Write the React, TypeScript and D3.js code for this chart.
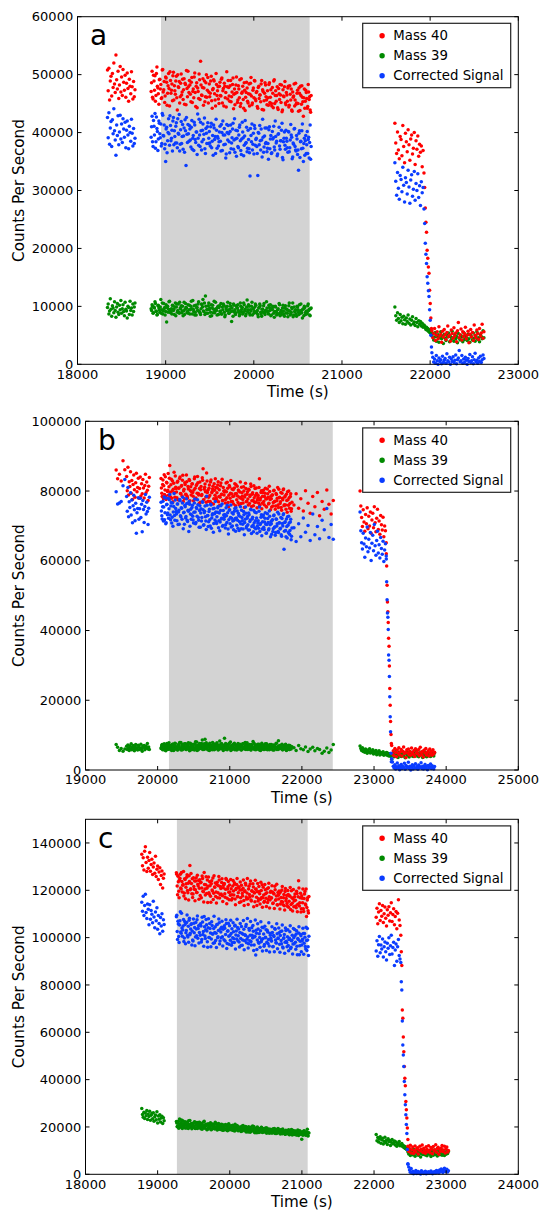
import React from "react";
import * as d3 from "d3";

// ---------- Panel a (values in thousands of counts per second) ----------
const A1_T = [18340,18348,18356,18364,18372,18380,18388,18396,18404,18412,18420,18428,18436,18444,18452,18460,18468,18476,18484,18492,18500,18508,18516,18524,18532,18540,18548,18556,18564,18572,18580,18588,18596,18604,18612,18620,18628,18636,18644,18652];
const A1_M40 = [50.8,47.2,51.1,45.6,48.9,49.7,46.3,50.2,47.8,52.0,48.4,46.9,53.4,49.1,47.5,50.6,45.9,48.2,51.4,47.0,49.6,46.4,50.9,48.7,47.3,49.9,46.1,48.5,50.3,47.6,45.4,49.2,48.0,46.7,50.5,47.9,45.8,48.8,46.2,47.4];
const A1_M39 = [9.8,10.4,8.7,9.2,11.3,9.5,8.3,10.1,9.7,8.9,10.8,9.3,8.1,9.9,10.5,9.0,8.6,10.2,9.4,11.0,8.8,9.6,10.3,9.1,8.4,10.7,9.5,9.2,8.0,10.0,9.8,8.6,10.9,9.3,9.7,8.5,10.4,9.1,9.9,10.6];
const A1_COR = [42.6,39.1,43.4,38.0,40.8,41.9,37.6,42.2,39.8,44.1,40.3,38.7,36.1,41.3,39.5,42.9,37.9,40.1,43.0,38.9,41.5,38.3,42.4,40.6,39.2,41.8,37.4,40.4,42.0,39.6,37.2,41.1,40.0,38.5,42.3,39.9,37.7,40.7,38.1,39.0];

const A2_T = [
18835,18846,18857,18868,18879,18890,18901,18912,18923,18934,
18945,18956,18967,18978,18989,19000,19011,19022,19033,19044,
19055,19066,19077,19088,19099,19110,19121,19132,19143,19154,
19165,19176,19187,19198,19209,19220,19231,19242,19253,19264,
19275,19286,19297,19308,19319,19330,19341,19352,19363,19374,
19385,19396,19407,19418,19429,19440,19451,19462,19473,19484,
19495,19506,19517,19528,19539,19550,19561,19572,19583,19594,
19605,19616,19627,19638,19649,19660,19671,19682,19693,19704,
19715,19726,19737,19748,19759,19770,19781,19792,19803,19814,
19825,19836,19847,19858,19869,19880,19891,19902,19913,19924,
19935,19946,19957,19968,19979,19990,20001,20012,20023,20034,
20045,20056,20067,20078,20089,20100,20111,20122,20133,20144,
20155,20166,20177,20188,20199,20210,20221,20232,20243,20254,
20265,20276,20287,20298,20309,20320,20331,20342,20353,20364,
20375,20386,20397,20408,20419,20430,20441,20452,20463,20474,
20485,20496,20507,20518,20529,20540,20551,20562,20573,20584,
20595,20606,20617,20628,20639,20650];
const A2_M40 = [
47.1,50.6,45.8,48.9,49.8,46.4,51.3,47.7,44.9,49.2,
48.3,46.0,50.9,47.4,45.2,49.6,48.7,46.8,50.2,44.6,
49.0,47.3,45.5,50.4,48.1,46.6,49.7,43.9,47.9,48.8,
46.2,50.1,47.0,45.7,49.3,48.5,44.8,47.6,50.6,46.9,
48.2,45.3,49.5,47.1,46.0,50.3,44.5,48.6,47.7,45.9,
49.1,52.3,46.5,47.8,44.7,48.9,46.2,50.0,47.3,45.1,
48.4,46.8,49.7,44.2,47.6,48.9,45.6,50.2,46.4,47.9,
45.0,48.7,46.3,49.4,47.2,44.6,48.0,46.9,50.5,45.8,
47.8,45.4,49.0,46.2,48.3,44.1,47.5,46.8,49.6,45.2,
48.1,46.0,44.5,49.3,47.0,45.7,48.6,43.8,46.9,47.7,
45.1,48.4,46.6,49.5,44.8,47.3,46.0,48.9,45.5,47.1,
44.2,48.0,46.5,45.3,49.0,47.4,43.9,46.8,48.2,45.6,
47.2,44.7,48.6,46.1,45.0,47.8,44.3,49.1,46.4,45.4,
47.9,44.0,46.7,48.3,45.2,43.6,47.4,46.2,48.8,44.8,
46.5,47.7,44.4,48.1,45.6,43.9,47.0,46.3,44.6,48.5,
45.1,47.3,43.7,46.8,48.0,44.9,46.1,42.8,47.5,45.4,
46.9,44.2,48.3,45.7,43.9,46.4];
const A2_M39 = [
9.6,10.3,8.8,9.9,10.8,9.2,8.5,10.1,9.7,9.0,
11.2,9.4,8.7,10.5,9.8,9.1,7.3,10.0,9.5,10.9,
8.9,9.6,10.2,9.3,8.6,10.6,9.9,9.0,10.4,8.8,
9.7,10.1,9.2,8.4,10.7,9.5,9.8,8.9,10.3,9.4,
8.7,10.0,9.6,11.0,9.1,8.5,10.2,9.7,9.3,10.8,
9.0,8.6,10.4,9.9,9.2,10.6,11.8,8.8,9.5,10.1,
9.4,8.3,10.3,9.7,8.9,10.9,9.2,9.6,8.5,10.0,
9.8,9.1,10.5,8.7,9.4,10.2,8.2,9.9,9.3,10.7,
8.8,9.5,10.0,7.4,9.2,10.4,9.0,8.6,10.1,9.7,
9.3,8.4,10.6,9.1,9.8,8.9,10.3,9.5,8.7,11.1,
9.4,10.0,8.5,9.2,10.7,9.6,8.8,9.9,10.2,9.1,
8.6,9.7,10.4,9.0,8.3,9.5,10.1,8.9,9.3,10.8,
9.2,8.7,9.8,10.3,8.5,9.4,9.9,8.1,10.0,9.1,
8.8,9.6,10.5,8.4,9.3,9.0,10.2,8.6,9.7,8.9,
9.5,8.2,10.1,9.2,8.7,9.8,10.6,8.5,9.1,9.4,
8.3,9.9,9.0,10.3,8.8,9.3,8.0,9.6,10.0,8.6,
9.2,8.9,10.4,9.5,8.4,9.7];
const A2_COR = [
39.2,42.8,37.6,41.1,43.3,38.4,40.7,36.9,42.0,39.8,
41.5,38.1,43.0,39.4,37.2,35.0,40.9,38.6,42.4,37.8,
41.2,39.0,36.8,42.6,40.3,38.2,41.7,37.4,39.9,43.1,
38.0,41.9,39.3,37.1,40.8,42.2,34.3,39.7,41.4,38.5,
40.6,37.5,42.1,39.0,36.9,41.3,38.3,40.1,43.2,37.8,
39.6,41.8,37.0,40.4,38.8,42.5,36.4,39.9,41.0,38.1,
40.2,37.7,41.6,38.5,36.1,40.8,39.3,42.3,37.3,39.0,
38.4,41.1,36.8,40.0,42.0,37.9,39.6,35.6,41.4,38.7,
39.8,36.5,41.3,38.2,40.6,37.1,42.4,38.9,35.9,40.3,
37.4,40.9,38.6,36.2,41.8,39.1,37.8,42.1,38.3,36.7,
40.4,37.2,32.5,39.5,41.5,38.0,36.3,40.7,38.8,37.6,
32.6,39.9,41.2,37.0,38.7,42.3,36.6,39.4,38.1,40.8,
37.3,35.4,41.0,38.9,36.4,40.2,39.1,37.5,42.0,38.2,
36.0,39.7,40.9,37.1,38.6,41.6,35.3,39.0,37.8,40.4,
38.5,36.6,40.1,37.4,41.4,39.2,35.8,38.0,40.7,37.0,
39.5,36.2,33.5,40.3,38.4,37.2,41.5,35.0,39.0,38.6,
36.4,40.2,38.8,35.6,41.3,37.6];

const A2X_T = [
18840,18851,18862,18873,18884,18895,18906,18917,18928,18939,
18950,18961,18972,18983,18994,19005,19016,19027,19038,19049,
19060,19071,19082,19093,19104,19115,19126,19137,19148,19159,
19170,19181,19192,19203,19214,19225,19236,19247,19258,19269,
19280,19291,19302,19313,19324,19335,19346,19357,19368,19379,
19390,19401,19412,19423,19434,19445,19456,19467,19478,19489,
19500,19511,19522,19533,19544,19555,19566,19577,19588,19599,
19610,19621,19632,19643,19654,19665,19676,19687,19698,19709,
19720,19731,19742,19753,19764,19775,19786,19797,19808,19819,
19830,19841,19852,19863,19874,19885,19896,19907,19918,19929,
19940,19951,19962,19973,19984,19995,20006,20017,20028,20039,
20050,20061,20072,20083,20094,20105,20116,20127,20138,20149,
20160,20171,20182,20193,20204,20215,20226,20237,20248,20259,
20270,20281,20292,20303,20314,20325,20336,20347,20358,20369,
20380,20391,20402,20413,20424,20435,20446,20457,20468,20479,
20490,20501,20512,20523,20534,20545,20556,20567,20578,20589,
20600,20611,20622,20633,20644];
const A2X_M40 = [
48.6,46.1,49.9,47.3,45.4,50.2,48.0,46.7,49.1,47.5,
45.9,50.8,47.0,48.8,46.3,49.4,44.7,48.1,47.6,50.5,
46.8,48.4,49.8,45.6,47.2,48.9,46.0,50.0,47.8,45.1,
48.5,46.5,49.2,47.4,44.9,48.3,50.7,46.2,47.9,49.0,
46.6,48.7,45.2,47.5,49.6,46.9,48.0,44.3,47.1,50.1,
45.7,48.2,46.4,49.3,47.7,45.3,48.6,46.1,49.5,47.0,
46.2,48.9,45.5,47.4,49.1,46.7,44.6,48.3,47.2,45.8,
48.0,46.4,49.2,45.1,47.6,48.5,46.0,44.4,47.9,49.0,
46.3,48.1,45.3,47.0,49.4,46.6,44.8,48.2,46.9,45.6,
47.5,49.1,45.0,46.8,48.0,44.2,47.3,46.1,48.7,45.4,
46.7,44.6,48.5,46.3,45.1,47.7,49.0,45.8,46.9,44.5,
47.8,45.9,46.5,48.4,44.0,47.1,45.5,48.6,46.2,44.8,
46.0,48.3,45.2,47.4,44.6,46.8,48.9,45.0,47.2,46.4,
44.3,47.6,45.7,46.5,48.2,43.9,46.3,47.9,45.1,46.9,
45.4,48.0,44.7,46.6,47.5,43.7,46.1,48.4,45.6,44.9,
46.8,45.0,47.7,43.8,46.4,48.1,45.3,46.0,44.2,47.3,
45.9,44.5,47.0,46.2,43.5];
const A2X_M39 = [
9.3,10.0,8.9,9.7,10.5,9.1,8.6,10.2,9.4,9.9,
8.8,10.6,9.2,9.6,8.5,10.3,9.8,9.0,10.8,9.4,
9.1,8.7,10.1,9.5,9.9,8.4,10.4,9.3,9.0,10.7,
9.6,8.9,10.0,9.2,8.6,10.5,9.7,9.1,8.8,10.2,
9.4,10.9,8.7,9.5,10.1,9.0,8.5,9.8,10.4,9.2,
8.9,9.6,10.3,11.2,9.1,8.6,10.0,9.4,8.8,10.6,
9.7,9.0,8.4,10.2,9.5,8.9,10.7,9.3,9.8,8.6,
10.1,9.2,8.7,9.9,10.4,9.0,8.5,9.6,10.0,9.3,
8.8,10.5,9.1,9.7,8.3,10.2,9.4,8.9,9.8,10.3,
9.0,8.6,10.0,9.5,8.7,10.6,9.2,8.4,9.9,9.1,
10.3,8.8,9.4,10.0,8.5,9.6,9.1,10.4,8.9,9.3,
8.2,9.8,10.1,8.7,9.5,9.0,10.5,8.6,9.2,9.7,
8.9,10.2,9.3,8.4,9.6,10.0,8.8,9.1,9.9,8.5,
9.4,8.7,10.3,9.0,8.6,9.7,9.2,8.3,10.1,9.5,
8.8,9.3,10.6,8.5,9.0,9.6,8.2,9.9,9.1,8.7,
10.0,9.4,8.6,9.2,10.4,8.9,9.5,8.4,9.8,9.0,
8.7,10.1,9.3,8.5,9.6];
const A2X_COR = [
41.0,38.4,42.1,39.6,37.3,42.7,40.2,38.9,41.6,39.1,
37.7,43.3,39.5,41.3,38.0,40.6,36.5,40.0,39.8,42.9,
38.6,40.4,42.0,37.9,39.3,41.1,38.2,42.4,39.7,36.8,
40.5,38.1,41.4,39.4,36.6,40.3,42.6,38.3,39.8,41.2,
38.7,40.9,37.1,39.5,41.8,38.8,40.1,36.2,39.0,42.3,
37.6,40.3,38.4,41.5,39.7,37.2,40.7,38.1,41.7,39.0,
38.2,41.0,37.4,39.5,41.3,38.8,36.4,40.4,39.3,37.7,
40.1,38.5,41.4,36.9,39.6,40.7,38.0,36.3,40.0,41.2,
38.4,40.2,37.2,39.1,41.6,38.7,36.6,40.4,39.0,37.6,
39.6,41.3,36.9,38.9,40.1,36.0,39.4,38.1,40.9,37.3,
38.8,36.5,40.7,38.4,37.0,39.9,41.2,37.8,39.0,36.4,
40.0,37.9,38.6,40.6,35.8,39.2,37.5,40.8,38.3,36.7,
38.1,40.5,37.2,39.5,36.5,38.9,41.1,37.0,39.3,38.5,
36.3,39.8,37.7,38.6,40.4,35.7,38.4,40.1,37.1,39.0,
37.4,40.2,36.7,38.7,39.6,35.5,38.2,40.6,37.6,36.8,
38.9,37.0,39.9,35.7,38.5,40.3,37.3,38.1,36.1,39.5,
37.9,36.4,39.2,38.3,35.4];

const A3_T = [21600,21610,21620,21630,21640,21650,21660,21670,21680,21690,21700,21710,21720,21730,21740,21750,21760,21770,21780,21790,21800,21810,21820,21830,21840,21850,21860,21870,21880,21890,21900,21910,21920,21930];
const A3_M40 = [41.6,38.2,36.4,40.1,37.0,35.5,39.3,38.8,36.0,41.2,37.6,34.8,39.9,38.4,36.7,40.5,37.9,35.2,38.9,39.6,36.3,37.3,40.0,34.5,38.6,37.1,39.4,35.9,38.0,36.6,37.7,34.1,36.9,33.0];
const A3_M39 = [9.9,8.4,7.6,8.9,7.9,7.2,8.6,7.5,8.1,7.0,8.3,7.7,6.9,8.0,7.4,8.5,7.1,7.8,6.8,7.6,8.2,7.0,7.3,6.7,7.9,7.2,6.5,7.5,6.9,7.4,6.6,7.1,6.4,6.8];
const A3_COR = [34.8,31.6,29.2,33.1,30.4,28.5,32.6,31.9,29.8,34.0,30.9,28.0,32.2,31.4,29.4,33.5,30.6,27.8,31.8,32.7,29.0,30.2,33.3,28.3,31.2,30.0,32.9,28.8,30.8,27.4,31.5,29.6,30.5,26.8];

const A4_T = [21938,21945,21952,21959,21966,21973,21980,21987,21994,22001,22008,22015];
const A4_M40 = [30.5,27.0,24.5,22.8,19.7,18.3,16.8,15.7,12.8,10.5,8.0,6.2];
const A4_M39 = [6.6,6.3,6.0,6.4,5.9,6.2,5.7,6.0,5.5,5.8,5.3,5.6];
const A4_COR = [24.3,20.9,19.0,17.4,15.1,14.0,12.7,11.7,9.4,7.6,5.0,3.0];

const A5_T = [22020,22030,22040,22050,22060,22070,22080,22090,22100,22110,22120,22130,22140,22150,22160,22170,22180,22190,22200,22210,22220,22230,22240,22250,22260,22270,22280,22290,22300,22310,22320,22330,22340,22350,22360,22370,22380,22390,22400,22410,22420,22430,22440,22450,22460,22470,22480,22490,22500,22510,22520,22530,22540,22550,22560,22570,22580,22590,22600,22610];
const A5_M40 = [5.8,4.6,5.3,6.2,4.1,5.0,5.6,4.4,6.5,4.9,5.2,3.8,5.7,4.7,6.0,5.1,4.3,5.5,6.6,4.8,5.0,4.0,5.9,5.3,4.5,6.3,4.9,5.4,3.9,5.8,7.2,4.6,5.1,6.1,4.2,5.6,4.8,5.3,6.4,4.4,5.0,5.7,3.7,5.2,6.0,4.7,5.5,4.1,6.8,5.0,4.6,5.9,5.3,4.3,6.2,4.9,5.4,6.9,4.5,5.6];
const A5_M39 = [4.9,5.3,4.2,4.7,5.5,4.0,4.8,5.1,3.8,4.6,5.6,4.4,4.9,3.6,5.2,4.5,4.1,5.0,4.7,5.4,3.9,4.8,4.3,5.7,4.6,4.0,5.1,4.4,4.8,3.7,5.3,4.5,4.2,5.0,4.7,3.9,5.5,4.3,4.9,4.6,4.1,5.2,4.4,3.8,5.0,4.7,4.2,5.4,4.5,4.0,4.9,5.6,4.3,4.6,3.9,5.1,4.8,4.4,5.8,4.6];
const A5_COR = [2.0,1.2,0.4,0.9,0.2,1.5,0.6,0.0,1.1,0.5,0.8,0.1,1.4,0.3,0.7,1.0,0.2,1.8,0.6,0.4,1.2,0.0,0.9,0.5,1.3,0.3,0.7,1.6,0.1,0.8,1.1,2.4,0.4,0.6,1.5,0.2,0.9,0.3,1.2,0.7,0.0,1.0,0.5,1.7,0.3,0.6,1.3,0.1,0.8,1.9,0.4,0.7,0.2,1.1,0.5,1.4,0.3,0.8,1.6,1.0];

// ---------- Panel b ----------
const B1_T = [19425,19445,19470,19495,19520,19545,19570,19579,19588,19597,19606,19615,19624,19633,19642,19651,19660,19669,19678,19687,19696,19705,19714,19723,19732,19741,19750,19759,19768,19777,19786,19795,19804,19813,19822,19831,19840,19849,19858,19867,19876,19885];
const B1_M40 = [86.0,83.5,84.8,82.9,88.7,86.1,84.2,80.1,86.8,78.9,82.7,81.3,85.5,79.4,83.0,77.6,81.9,84.6,80.4,78.2,82.4,85.1,79.8,81.0,83.7,77.9,80.7,84.0,78.6,82.1,79.2,83.3,80.9,78.0,81.6,84.8,79.5,82.6,80.2,77.3,81.4,83.9];
const B1_M39 = [7.3,6.5,5.6,6.2,5.4,6.0,6.8,5.9,7.2,6.3,5.6,6.9,6.1,7.5,5.8,6.5,7.0,6.2,5.5,6.7,7.3,6.0,6.4,5.7,7.1,6.6,5.9,6.3,7.4,6.1,5.4,6.8,6.5,7.0,5.8,6.2,6.9,6.4,7.6,6.0,6.6,5.9];
const B1_COR = [79.8,76.3,76.6,77.0,81.5,83.3,78.4,74.2,81.0,72.6,76.9,75.3,79.5,73.1,77.4,70.9,75.8,78.8,74.6,71.5,76.5,67.9,73.8,75.0,78.1,71.9,74.9,77.9,72.4,76.2,68.3,77.3,74.7,71.0,75.6,79.0,73.4,76.8,74.1,70.4,75.1,78.2];

const B2_T = [
20047,20058,20069,20080,20091,20102,20113,20124,20135,20146,
20157,20168,20179,20190,20201,20212,20223,20234,20245,20256,
20267,20278,20289,20300,20311,20322,20333,20344,20355,20366,
20377,20388,20399,20410,20421,20432,20443,20454,20465,20476,
20487,20498,20509,20520,20531,20542,20553,20564,20575,20586,
20597,20608,20619,20630,20641,20652,20663,20674,20685,20696,
20707,20718,20729,20740,20751,20762,20773,20784,20795,20806,
20817,20828,20839,20850,20861,20872,20883,20894,20905,20916,
20927,20938,20949,20960,20971,20982,20993,21004,21015,21026,
21037,21048,21059,21070,21081,21092,21103,21114,21125,21136,
21147,21158,21169,21180,21191,21202,21213,21224,21235,21246,
21257,21268,21279,21290,21301,21312,21323,21334,21345,21356,
21367,21378,21389,21400,21411,21422,21433,21444,21455,21466,
21477,21488,21499,21510,21521,21532,21543,21554,21565,21576,
21587,21598,21609,21620,21631,21642,21653,21664,21675,21686,
21697,21708,21719,21730,21741,21752,21763,21774,21785,21796,
21807,21818,21829,21840,21851,21862];
const B2_M40 = [
83.6,79.4,81.9,77.8,84.7,80.3,78.6,82.5,79.9,85.0,
81.2,87.3,78.3,83.4,80.0,76.9,82.2,79.5,84.3,80.7,
78.1,82.8,80.9,77.4,84.0,79.2,81.6,83.1,77.0,80.5,
82.4,79.0,84.6,78.5,81.3,76.6,83.0,80.1,78.9,82.0,
79.6,77.2,83.5,80.8,78.0,81.9,84.2,79.3,76.4,82.6,
80.4,78.7,83.8,86.4,77.5,81.1,79.8,76.8,82.9,80.2,
78.2,81.7,77.0,83.2,79.5,80.6,76.3,82.1,78.8,81.0,
77.6,80.9,82.7,78.4,75.9,81.5,79.0,83.4,77.3,80.0,
79.7,76.6,82.3,78.1,80.8,75.5,81.6,77.9,83.0,79.2,
77.0,80.4,78.6,82.1,75.8,79.3,81.4,76.7,80.0,78.2,
82.6,76.4,79.5,77.6,81.2,75.3,78.9,80.7,77.1,79.8,
76.0,80.3,78.4,82.0,75.6,79.1,77.3,81.5,76.8,78.7,
80.9,75.2,78.0,76.6,83.5,77.4,79.6,74.9,78.5,80.2,
76.1,79.4,77.7,75.4,80.6,78.2,76.5,79.9,74.6,77.8,
78.9,75.7,80.1,76.9,74.8,79.3,77.2,81.0,75.3,78.1,
76.4,79.6,74.5,77.9,80.4,75.8,78.3,76.0,79.1,73.9,
77.5,80.0,75.1,78.4,74.2,76.8];
const B2_M39 = [
6.2,7.1,5.8,6.9,7.5,6.4,5.5,7.2,6.7,6.0,
7.8,6.5,5.9,7.0,6.3,7.4,5.6,6.8,7.6,6.1,
6.6,5.7,7.3,6.9,6.0,7.9,6.4,5.8,7.1,6.7,
6.2,7.5,5.9,6.8,7.2,6.3,5.5,7.7,6.6,6.0,
7.0,6.4,5.7,7.4,6.9,8.0,6.1,5.8,7.3,6.5,
6.8,7.6,8.6,6.2,5.9,7.1,6.6,7.8,6.0,6.9,
7.3,5.6,6.7,7.0,6.3,7.9,6.1,5.8,7.4,6.8,
6.4,7.2,5.7,6.9,8.3,6.2,7.5,6.6,6.0,7.1,
9.1,6.5,5.9,7.3,6.8,6.2,7.7,6.4,5.6,7.0,
6.7,7.4,6.1,5.8,7.2,6.9,6.3,7.6,6.0,6.6,
7.1,5.7,6.8,7.5,6.2,6.5,7.9,5.9,6.7,7.2,
6.4,7.0,6.1,5.8,7.3,6.6,8.2,6.3,5.9,7.1,
6.8,6.0,7.4,6.5,5.7,7.0,6.2,7.7,6.4,5.9,
7.2,6.6,6.1,7.5,5.8,6.9,7.1,6.3,6.0,7.3,
6.5,5.7,7.0,6.8,6.2,7.6,5.9,6.7,8.4,6.1,
6.9,6.4,7.2,5.8,6.6,7.0,6.1,7.4,5.6,6.8,
6.3,7.1,5.9,6.6,6.0,6.7];
const B2_COR = [
76.8,72.9,75.5,71.4,78.3,73.8,70.6,76.1,73.2,77.9,
74.9,79.0,71.8,76.7,72.5,69.9,75.6,73.0,77.4,74.1,
71.5,76.3,74.0,70.5,77.2,72.6,75.1,76.6,69.2,73.9,
75.9,72.3,77.8,71.6,74.5,68.4,76.2,73.4,71.9,75.3,
72.8,70.8,76.6,74.0,71.0,75.0,77.5,72.4,69.6,75.8,
73.7,71.4,76.9,74.6,70.3,74.2,72.6,69.0,75.9,73.0,
71.2,74.8,70.0,76.0,72.3,73.5,68.2,75.1,71.7,74.0,
70.7,73.9,75.6,71.5,68.6,74.4,72.0,76.3,70.1,73.1,
72.6,69.4,75.2,71.0,73.8,67.7,74.5,70.6,76.0,72.2,
70.0,73.4,71.6,75.0,68.5,72.3,74.3,69.3,73.0,71.2,
75.5,69.2,72.4,70.5,74.1,67.5,71.9,73.6,69.9,72.7,
68.8,73.2,71.3,74.8,67.8,72.0,70.2,74.4,69.5,71.5,
73.8,67.9,70.8,69.3,75.4,70.4,72.5,67.2,71.2,73.1,
69.0,72.2,70.5,68.0,73.5,71.0,69.2,72.8,66.9,70.6,
71.6,68.4,72.9,69.6,67.3,72.0,70.0,73.9,68.1,70.9,
69.1,72.4,67.0,70.7,73.2,63.3,71.0,68.7,72.0,66.5,
70.2,72.8,67.6,71.1,66.0,69.4];

const B2X_T = [
20052,20063,20074,20085,20096,20107,20118,20129,20140,20151,
20162,20173,20184,20195,20206,20217,20228,20239,20250,20261,
20272,20283,20294,20305,20316,20327,20338,20349,20360,20371,
20382,20393,20404,20415,20426,20437,20448,20459,20470,20481,
20492,20503,20514,20525,20536,20547,20558,20569,20580,20591,
20602,20613,20624,20635,20646,20657,20668,20679,20690,20701,
20712,20723,20734,20745,20756,20767,20778,20789,20800,20811,
20822,20833,20844,20855,20866,20877,20888,20899,20910,20921,
20932,20943,20954,20965,20976,20987,20998,21009,21020,21031,
21042,21053,21064,21075,21086,21097,21108,21119,21130,21141,
21152,21163,21174,21185,21196,21207,21218,21229,21240,21251,
21262,21273,21284,21295,21306,21317,21328,21339,21350,21361,
21372,21383,21394,21405,21416,21427,21438,21449,21460,21471,
21482,21493,21504,21515,21526,21537,21548,21559,21570,21581,
21592,21603,21614,21625,21636,21647,21658,21669,21680,21691,
21702,21713,21724,21735,21746,21757,21768,21779,21790,21801,
21812,21823,21834,21845,21856];
const B2X_M40 = [
80.9,78.4,83.2,81.5,79.0,84.1,77.6,82.3,80.2,78.8,
83.7,79.6,81.8,77.9,82.9,80.5,85.4,78.2,81.1,79.7,
82.5,77.5,80.8,83.6,79.3,81.4,78.6,84.5,80.0,77.8,
81.9,79.1,82.7,78.0,80.6,83.3,77.2,81.2,79.8,82.1,
78.5,80.3,84.0,77.7,81.6,79.4,82.4,78.9,80.7,76.8,
81.3,79.0,83.1,77.4,80.5,82.0,78.3,85.2,79.6,77.1,
80.8,78.7,82.6,76.5,79.9,81.4,77.8,80.2,83.5,78.1,
79.5,81.7,76.9,80.4,78.2,82.3,79.1,77.3,81.0,78.9,
80.1,77.6,79.8,82.5,76.7,78.8,81.2,79.4,77.0,80.6,
78.4,76.3,80.9,79.2,81.8,77.5,78.6,80.3,76.1,79.7,
77.9,81.1,78.5,76.6,80.0,78.3,82.2,76.9,79.1,77.7,
80.5,76.4,78.9,81.3,77.2,79.5,75.8,78.1,80.7,76.8,
79.3,77.4,78.7,81.0,75.9,78.0,80.1,76.5,79.6,77.0,
78.4,80.8,75.6,77.8,79.2,76.3,81.4,77.6,78.5,75.4,
78.9,76.7,80.2,77.1,75.7,79.0,77.9,76.0,80.5,78.2,
76.9,75.3,79.4,77.5,80.6,76.1,78.6,74.8,77.3,79.8,
75.9,78.1,76.4,79.2,74.9];
const B2X_M39 = [
6.5,7.3,6.0,6.8,5.7,7.1,6.4,7.6,5.9,6.7,
7.2,6.1,6.9,5.6,7.4,6.3,6.8,7.7,6.0,6.6,
5.8,7.0,6.5,7.9,6.2,5.7,7.3,6.8,6.1,7.5,
6.4,5.9,7.1,6.7,7.8,6.0,6.5,7.2,5.8,6.9,
7.4,6.3,6.0,8.1,6.7,5.6,7.0,6.4,7.6,6.2,
6.9,7.3,5.9,6.6,7.5,8.8,6.1,6.8,7.2,5.7,
6.5,7.7,6.2,6.9,5.8,7.1,6.6,7.4,6.0,6.3,
7.8,6.4,5.9,7.2,6.7,6.1,7.5,6.8,5.6,7.0,
6.3,7.6,6.9,5.8,6.5,7.3,6.2,8.0,6.6,5.9,
7.1,6.4,7.7,6.0,6.8,5.7,7.2,6.5,6.1,7.4,
6.9,5.8,6.7,7.5,6.2,6.0,7.1,6.6,7.8,5.9,
6.4,7.3,6.8,5.7,7.0,6.3,6.1,7.6,6.5,5.8,
7.2,6.7,6.0,7.4,6.4,5.6,6.9,7.1,6.2,6.8,
5.9,7.5,6.6,6.1,7.0,6.4,5.8,7.3,6.7,6.0,
6.5,7.2,5.7,6.9,6.3,7.7,6.1,5.9,6.8,7.0,
6.2,6.6,7.4,5.8,6.5,7.1,6.0,6.7,5.7,6.9,
6.4,5.9,7.0,6.3,6.6];
const B2X_COR = [
74.3,72.0,77.1,75.4,71.8,78.0,70.9,76.2,73.7,72.2,
77.5,73.1,75.7,70.8,76.6,74.0,79.3,71.6,75.0,73.4,
76.3,70.4,74.5,77.6,72.9,75.2,71.9,78.2,73.8,70.5,
75.5,72.7,76.4,71.3,74.2,77.0,69.9,74.8,73.2,75.9,
71.7,73.9,77.7,70.6,75.3,72.8,76.1,71.6,74.4,69.6,
74.9,72.4,76.8,70.2,73.8,75.7,71.4,78.5,72.9,69.8,
74.1,71.8,76.2,69.3,73.1,74.9,70.7,73.5,77.0,71.2,
72.6,75.2,69.5,73.7,71.1,75.8,72.2,69.9,74.4,71.9,
73.3,70.3,72.9,75.9,69.1,71.8,74.6,72.4,69.7,73.8,
71.4,68.9,74.2,72.1,75.2,70.2,71.6,73.6,68.7,72.8,
70.6,74.5,71.5,69.1,73.2,71.0,75.4,69.4,72.2,70.3,
73.7,68.8,71.7,74.6,69.8,72.5,68.3,70.9,73.9,69.2,
72.3,70.0,71.5,74.2,68.4,70.7,73.2,69.1,72.7,69.6,
71.1,73.8,67.9,70.4,72.1,68.8,74.3,70.3,71.2,67.6,
71.8,69.2,73.1,69.7,68.1,71.9,70.6,68.4,73.4,70.8,
69.3,67.5,72.1,70.0,73.5,68.5,71.2,66.9,69.8,72.6,
68.1,70.8,68.7,71.9,67.0];

const B3_T = [21890,21920,21955,21985,22020,22050,22085,22115,22150,22180,22215,22245,22280,22310,22345,22375,22405,22435];
const B3_M40 = [76.0,79.2,75.1,77.8,74.3,80.1,76.5,73.6,78.4,75.5,79.6,72.9,77.0,74.8,80.3,76.2,73.4,77.3];
const B3_M39 = [6.4,5.6,7.0,6.1,5.8,6.6,5.3,6.0,6.5,5.5,6.2,5.9,4.8,5.4,6.3,5.0,5.7,7.3];
const B3_COR = [69.5,65.5,70.6,66.9,72.3,68.2,70.1,65.8,73.4,67.5,69.8,66.3,71.6,68.9,75.0,66.7,70.4,66.2];

const B4_T = [22806,22817,22828,22839,22850,22861,22872,22883,22894,22905,22916,22927,22938,22949,22960,22971,22982,22993,23004,23015,23026,23037,23048,23059,23070,23081,23092,23103,23114,23125,23136,23147,23158,23169];
const B4_M40 = [80.0,75.7,72.4,69.8,74.6,71.1,68.5,73.3,70.6,75.2,69.2,72.8,70.0,74.0,67.9,71.7,73.6,69.5,75.5,70.9,68.3,72.2,74.8,69.0,71.4,67.6,73.0,70.3,68.8,72.5,66.9,70.0,68.6,65.2];
const B4_M39 = [6.9,6.2,5.6,6.4,5.3,5.9,5.1,6.0,5.5,4.8,5.7,5.2,6.1,4.9,5.4,5.0,5.8,4.6,5.3,4.9,5.6,4.4,5.1,4.7,5.5,4.3,5.0,4.8,4.5,5.2,4.2,4.7,4.9,4.4];
const B4_COR = [74.0,68.6,65.2,63.4,67.9,64.8,61.0,66.5,64.0,69.7,62.6,66.2,63.7,68.1,60.1,65.0,67.3,62.9,70.4,64.3,61.6,65.8,68.5,62.2,64.6,60.8,66.7,63.5,61.9,65.6,59.8,63.1,64.9,61.4];

const B5_T = [23170,23175,23181,23186,23192,23197,23202,23208,23213,23218,23224,23229,23235,23240];
const B5_M40 = [62.0,58.5,53.0,48.2,45.4,42.3,37.8,35.5,29.8,23.4,18.6,13.9,10.2,7.6];
const B5_M39 = [4.6,5.0,4.3,4.8,4.5,4.1,4.7,4.4,4.0,4.6,4.2,4.5,3.9,4.3];
const B5_COR = [60.5,54.0,48.8,45.0,43.8,40.3,33.0,31.5,26.8,21.0,15.3,11.0,4.8,2.4];

const B6_T = [23245,23256,23267,23278,23289,23300,23311,23322,23333,23344,23355,23366,23377,23388,23399,23410,23421,23432,23443,23454,23465,23476,23487,23498,23509,23520,23531,23542,23553,23564,23575,23586,23597,23608,23619,23630,23641,23652,23663,23674,23685,23696,23707,23718,23729,23740,23751,23762,23773,23784,23795,23806,23817,23828,23839];
const B6_M40 = [7.0,4.6,5.5,4.1,6.2,5.0,3.8,5.7,4.8,6.4,4.3,5.2,5.9,4.0,5.4,6.6,4.7,5.1,3.6,5.8,4.9,6.0,4.4,5.3,4.2,6.3,5.0,4.5,5.6,3.9,6.1,4.8,5.2,4.6,5.9,4.1,6.5,5.1,4.4,5.4,3.7,5.7,4.9,6.2,4.3,5.0,5.5,4.0,6.0,4.7,5.3,4.2,5.8,4.6,5.1];
const B6_M39 = [3.1,4.4,4.9,3.8,4.6,5.2,4.1,4.7,3.6,5.0,4.3,4.8,3.9,5.4,4.5,4.0,4.9,3.5,4.6,5.1,4.2,4.7,3.7,5.3,4.4,4.1,4.8,3.9,5.0,4.5,4.2,5.5,4.0,4.6,3.8,4.9,4.3,5.1,4.7,3.6,4.4,5.2,4.0,4.8,3.8,4.5,5.0,4.1,4.6,3.9,5.3,4.3,4.7,4.0,4.9];
const B6_COR = [3.2,2.3,1.1,0.6,1.5,0.3,0.9,2.0,0.5,1.2,0.1,0.8,1.6,0.4,1.0,0.7,1.9,0.2,1.3,0.6,0.9,2.2,0.4,1.1,0.0,0.8,1.5,0.3,1.2,0.6,1.8,0.5,1.0,0.2,1.4,0.7,0.9,2.1,0.4,1.1,0.3,0.8,1.6,0.5,1.0,0.1,1.3,0.6,0.9,1.7,0.4,1.2,0.7,0.3,1.0];

// ---------- Panel c ----------
const C1_T = [18780,18790,18800,18810,18820,18830,18840,18850,18860,18870,18880,18890,18900,18910,18920,18930,18940,18950,18960,18970,18980,18990,19000,19010,19020,19030,19040,19050,19060,19070,19080,19090];
const C1_M40 = [135.2,130.4,133.8,128.6,136.5,138.4,131.7,127.9,134.0,129.3,132.6,136.0,128.1,130.9,133.1,126.7,129.8,131.5,127.2,134.4,125.8,128.9,130.3,124.6,127.7,129.5,122.4,126.3,128.2,121.0,125.1,126.9];
const C1_M39 = [27.8,25.3,24.1,26.2,23.6,25.9,24.7,27.0,23.2,25.5,24.4,26.6,22.8,24.9,25.7,23.5,26.0,22.4,24.3,25.1,23.0,26.4,21.7,24.6,23.3,25.2,22.1,23.8,24.5,21.5,23.9,22.6];
const C1_COR = [115.0,111.2,117.5,109.3,113.6,118.3,110.6,108.1,114.2,112.0,105.4,113.9,107.8,111.5,109.9,106.3,115.4,108.7,104.2,110.8,107.1,112.6,103.5,109.4,106.0,101.6,108.5,104.9,110.1,102.7,107.6,105.5];

const C2_T = [
19260,19271,19282,19293,19304,19315,19326,19337,19348,19359,
19370,19381,19392,19403,19414,19425,19436,19447,19458,19469,
19480,19491,19502,19513,19524,19535,19546,19557,19568,19579,
19590,19601,19612,19623,19634,19645,19656,19667,19678,19689,
19700,19711,19722,19733,19744,19755,19766,19777,19788,19799,
19810,19821,19832,19843,19854,19865,19876,19887,19898,19909,
19920,19931,19942,19953,19964,19975,19986,19997,20008,20019,
20030,20041,20052,20063,20074,20085,20096,20107,20118,20129,
20140,20151,20162,20173,20184,20195,20206,20217,20228,20239,
20250,20261,20272,20283,20294,20305,20316,20327,20338,20349,
20360,20371,20382,20393,20404,20415,20426,20437,20448,20459,
20470,20481,20492,20503,20514,20525,20536,20547,20558,20569,
20580,20591,20602,20613,20624,20635,20646,20657,20668,20679,
20690,20701,20712,20723,20734,20745,20756,20767,20778,20789,
20800,20811,20822,20833,20844,20855,20866,20877,20888,20899,
20910,20921,20932,20943,20954,20965,20976,20987,20998,21009,
21020,21031,21042,21053,21064,21075,21086,21097];
const C2_M40 = [
127.4,121.8,125.9,119.6,124.2,126.8,120.5,123.7,122.1,127.9,
118.9,124.6,121.3,125.5,119.9,123.0,126.2,130.5,120.7,122.9,
124.9,118.4,121.6,123.9,120.2,125.3,119.1,122.6,124.1,120.9,
117.8,123.4,121.0,125.0,119.4,127.5,120.6,122.3,118.6,124.4,
121.7,119.0,123.6,117.5,122.8,120.1,125.2,118.8,121.4,123.1,
119.3,122.4,116.9,121.9,124.3,118.2,120.8,123.3,117.7,121.1,
122.9,118.5,120.4,124.6,116.6,121.5,119.2,122.2,117.9,120.7,
118.1,121.8,119.7,123.2,116.3,120.3,122.5,117.4,119.0,121.2,
120.1,116.8,122.1,118.6,120.9,115.7,119.5,123.0,117.2,118.9,
116.4,120.6,118.2,122.7,115.9,119.8,117.6,121.4,119.1,115.2,
120.4,117.1,119.4,115.5,121.6,118.5,116.2,119.9,122.3,116.9,
118.0,115.4,120.2,116.6,119.0,114.8,121.1,117.3,115.9,119.6,
116.7,119.3,114.6,118.4,121.7,115.8,117.6,113.9,119.1,116.3,
118.8,114.2,117.0,120.1,115.1,116.9,113.5,119.5,115.6,117.8,
113.3,118.2,115.4,117.6,111.9,119.8,114.5,116.4,113.1,117.3,
115.8,112.6,118.6,114.1,124.0,113.4,116.9,110.8,117.7,114.7,
112.2,116.5,119.5,113.8,108.9,115.9,111.4,117.4];
const C2_M39 = [
22.3,20.1,21.6,19.5,23.4,20.8,21.9,19.9,22.6,20.4,
21.2,19.6,22.1,20.6,21.8,19.3,20.9,22.7,20.2,21.5,
19.8,21.3,20.0,22.2,19.4,20.7,21.9,19.7,20.5,22.0,
20.9,19.2,21.6,19.9,20.3,22.4,19.5,21.0,20.6,18.9,
21.4,19.6,20.2,21.8,18.8,20.7,19.4,21.1,20.0,22.0,
19.3,20.8,18.9,21.5,19.7,20.4,19.0,21.2,18.6,20.1,
20.6,19.1,21.0,18.7,20.2,19.5,21.4,18.9,19.8,20.5,
19.0,20.7,18.5,19.9,21.1,18.8,19.6,20.3,18.4,19.7,
20.0,18.6,19.8,18.3,20.6,19.1,18.9,20.2,17.9,19.4,
18.7,20.1,19.3,17.8,19.6,18.5,20.4,18.9,19.1,17.6,
19.5,18.2,20.0,18.6,17.7,19.2,18.4,19.9,18.0,18.8,
17.9,19.3,18.1,19.7,17.5,18.6,18.9,17.3,19.0,18.2,
18.7,17.4,19.2,18.0,17.6,18.9,17.2,18.5,19.4,17.8,
18.3,17.0,18.8,17.6,19.1,17.4,18.1,16.9,18.6,17.7,
17.2,18.5,16.8,18.0,17.5,18.9,16.6,17.9,18.3,17.1,
18.2,16.7,17.8,18.7,16.4,17.6,18.1,17.0,14.8,17.9,
16.9,18.4,17.3,16.5,17.8,19.0,16.2,17.5];
const C2_COR = [
108.8,102.6,106.9,100.5,105.3,110.9,101.9,104.1,103.2,107.7,
99.8,105.6,102.1,106.4,100.9,104.8,107.3,101.2,103.6,105.9,
102.8,98.6,106.1,104.3,100.3,103.7,107.6,99.7,105.0,102.2,
101.0,104.9,99.2,106.6,102.6,108.9,100.7,103.3,105.4,98.3,
104.2,100.1,106.0,102.0,99.4,105.1,101.5,103.9,97.8,104.6,
101.8,105.5,99.9,103.0,106.3,98.6,102.4,104.4,100.4,103.5,
99.1,104.0,101.3,106.0,97.5,102.9,100.6,105.0,98.9,101.7,
103.8,100.0,102.5,97.9,105.2,101.1,99.4,104.3,100.8,98.2,
102.2,99.6,104.7,96.8,101.4,103.5,98.7,100.9,105.6,99.3,
100.3,97.4,103.1,101.0,98.4,104.2,99.8,102.7,96.9,100.6,
92.7,101.9,99.0,103.6,97.6,100.1,102.9,98.3,104.4,99.5,
101.5,97.1,100.0,103.3,98.0,102.4,99.2,96.5,101.8,99.7,
98.6,102.2,96.3,100.5,103.9,99.0,97.7,101.6,99.8,104.1,
97.2,100.9,98.8,102.8,96.0,99.6,101.3,98.1,103.0,97.9,
100.4,96.7,99.2,102.5,95.4,98.7,101.0,97.3,99.9,103.4,
98.0,101.5,96.4,99.6,102.0,92.8,98.5,100.8,96.9,99.3,
101.7,97.6,100.2,95.2,98.8,103.9,96.1,100.6];

const C2X_T = [
19265,19276,19287,19298,19309,19320,19331,19342,19353,19364,
19375,19386,19397,19408,19419,19430,19441,19452,19463,19474,
19485,19496,19507,19518,19529,19540,19551,19562,19573,19584,
19595,19606,19617,19628,19639,19650,19661,19672,19683,19694,
19705,19716,19727,19738,19749,19760,19771,19782,19793,19804,
19815,19826,19837,19848,19859,19870,19881,19892,19903,19914,
19925,19936,19947,19958,19969,19980,19991,20002,20013,20024,
20035,20046,20057,20068,20079,20090,20101,20112,20123,20134,
20145,20156,20167,20178,20189,20200,20211,20222,20233,20244,
20255,20266,20277,20288,20299,20310,20321,20332,20343,20354,
20365,20376,20387,20398,20409,20420,20431,20442,20453,20464,
20475,20486,20497,20508,20519,20530,20541,20552,20563,20574,
20585,20596,20607,20618,20629,20640,20651,20662,20673,20684,
20695,20706,20717,20728,20739,20750,20761,20772,20783,20794,
20805,20816,20827,20838,20849,20860,20871,20882,20893,20904,
20915,20926,20937,20948,20959,20970,20981,20992,21003,21014,
21025,21036,21047,21058,21069,21080,21091];
const C2X_M40 = [
126.8,118.1,123.6,116.8,125.1,121.0,127.5,119.3,122.4,117.6,
124.9,116.4,122.8,126.6,119.0,115.9,123.7,120.2,127.1,118.5,
117.0,125.3,120.4,115.6,123.9,119.1,126.4,121.8,116.2,124.5,
123.2,116.9,126.0,119.6,115.1,122.5,118.0,125.7,120.9,114.8,
125.6,118.3,121.9,115.0,124.0,119.7,116.1,126.2,121.3,117.4,
114.6,123.4,119.0,125.8,116.7,121.6,118.4,124.9,115.3,122.1,
122.8,117.1,125.0,114.3,120.6,123.7,116.0,119.3,124.6,115.9,
116.5,124.1,118.0,122.6,113.9,120.9,125.0,117.3,121.5,114.8,
123.5,115.2,120.1,117.6,124.3,113.6,119.8,122.2,116.3,125.0,
114.0,121.7,117.2,123.9,115.5,119.6,122.8,113.1,118.9,124.2,
120.6,113.6,122.9,116.4,119.5,114.2,123.4,117.0,112.8,121.3,
115.0,122.4,118.5,113.2,120.7,116.1,123.0,112.5,119.2,116.9,
121.9,114.4,118.8,112.3,120.2,116.0,122.6,113.8,117.9,119.7,
112.1,119.5,115.3,121.6,113.9,118.2,111.7,120.8,116.5,114.4,
119.9,112.8,117.6,121.2,114.0,116.9,111.3,120.3,115.5,118.4,
113.4,119.6,110.9,117.3,121.0,114.7,118.8,112.2,116.6,120.5,
111.0,118.4,114.2,120.6,112.7,116.9,110.4];
const C2X_M39 = [
21.7,20.3,22.4,19.8,21.1,20.6,22.9,19.4,21.4,20.0,
22.2,20.9,19.6,21.8,20.4,22.6,19.9,21.0,20.7,19.2,
21.5,20.2,22.0,19.5,20.8,21.6,19.3,20.5,21.9,19.7,
20.1,21.3,19.0,20.6,22.1,19.8,20.3,21.2,18.8,20.9,
19.6,21.0,20.2,18.9,21.4,19.4,20.0,20.8,19.1,21.5,
19.9,18.7,20.5,19.5,21.1,18.9,20.3,19.7,20.9,18.6,
19.3,20.7,19.0,20.1,18.4,21.0,19.6,18.8,20.4,19.2,
18.6,20.2,19.4,18.3,20.0,19.1,20.6,18.5,19.8,18.9,
19.5,18.1,20.3,19.0,18.7,19.7,18.4,20.1,18.8,19.3,
17.9,19.6,18.6,19.9,18.2,19.0,18.5,20.2,17.8,19.2,
18.9,17.6,19.4,18.3,19.1,17.9,18.7,19.8,17.7,18.4,
19.2,18.0,18.8,17.5,19.5,18.2,17.8,19.0,18.5,17.4,
18.9,17.7,18.3,19.3,17.2,18.6,18.0,17.5,19.1,18.2,
17.4,18.7,17.9,17.1,18.5,17.8,18.2,16.9,18.4,17.6,
17.3,18.8,16.7,17.9,18.1,17.0,18.6,17.4,16.8,18.3,
17.7,16.6,18.0,17.2,17.5,18.4,16.9,17.8,17.1,16.5,
18.2,17.4,16.8,17.9,17.0,16.4,17.6];
const C2X_COR = [
109.5,99.2,105.8,97.9,107.1,102.4,110.3,100.6,104.9,98.4,
106.8,97.4,103.0,109.6,100.3,98.1,108.2,101.9,105.5,96.9,
99.0,107.9,102.1,96.6,106.4,100.8,109.1,103.9,97.7,105.3,
105.9,98.2,108.6,101.3,96.4,104.6,99.6,107.7,102.8,95.9,
108.0,100.1,103.9,96.2,106.7,101.5,97.6,109.0,102.2,98.8,
95.8,105.6,100.4,107.9,97.3,103.6,99.9,106.9,96.5,104.2,
105.0,98.6,107.6,95.4,102.7,106.1,97.2,100.9,107.3,96.8,
97.9,106.3,99.5,104.9,95.2,102.8,107.8,98.7,103.6,96.0,
106.0,96.7,101.9,99.0,107.2,94.9,101.2,104.7,97.8,108.1,
95.6,103.9,98.7,106.8,96.9,101.0,105.1,94.6,100.3,107.4,
103.1,95.0,105.9,98.0,101.6,95.9,106.7,99.1,94.3,104.2,
96.4,104.8,100.2,94.6,103.1,97.5,106.3,93.9,101.0,98.7,
104.6,96.1,100.9,94.0,103.5,97.8,105.9,95.3,99.6,102.1,
93.8,102.6,97.4,105.3,95.6,100.0,93.4,104.1,98.5,96.2,
103.3,94.5,99.7,105.0,95.9,98.9,93.1,103.9,97.4,100.8,
95.1,102.9,92.8,99.2,104.6,96.6,101.4,94.0,98.6,104.0,
93.0,101.7,96.3,104.4,94.6,99.0,92.5];

const C3_T = [22030,22041,22052,22063,22074,22085,22096,22107,22118,22129,22140,22151,22162,22173,22184,22195,22206,22217,22228,22239,22250,22261,22272,22283,22294,22305,22316,22327,22338,22349,22360,22371];
const C3_M40 = [108.6,112.4,105.9,110.8,114.3,107.2,111.5,109.0,113.6,106.4,110.1,112.9,108.2,104.9,111.8,109.5,113.1,107.0,110.5,114.7,106.8,109.8,112.2,105.4,108.9,111.0,103.8,110.3,116.0,107.5,105.1,101.0];
const C3_M39 = [16.8,14.2,15.5,13.6,14.9,15.9,13.1,14.6,15.2,12.8,14.0,15.7,13.4,14.4,12.6,15.0,13.8,14.3,12.2,13.5,14.7,12.9,13.2,14.1,12.4,13.7,11.9,13.0,12.7,13.9,12.1,12.5];
const C3_COR = [94.3,98.7,92.1,97.0,100.5,93.6,96.9,95.2,99.4,91.8,96.1,98.2,94.0,90.6,97.6,95.5,99.9,92.9,96.6,101.0,93.1,95.8,98.0,88.2,94.8,97.3,90.0,96.2,99.2,92.4,91.0,89.5];

const C4_T = [22378,22385,22392,22399,22406,22413,22420,22427,22434,22441,22448,22455,22462,22469];
const C4_M40 = [94.0,88.2,69.4,65.9,58.0,51.8,45.5,40.6,37.4,30.8,27.3,23.8,19.6,14.7];
const C4_M39 = [12.4,13.0,11.8,12.3,11.5,12.0,11.2,11.7,10.9,11.4,10.6,11.1,10.3,10.8];
const C4_COR = [81.4,77.9,64.8,54.6,50.4,45.5,39.2,33.6,29.4,25.2,21.0,17.2,10.5,4.5];

const C5_T = [22470,22481,22492,22503,22514,22525,22536,22547,22558,22569,22580,22591,22602,22613,22624,22635,22646,22657,22668,22679,22690,22701,22712,22723,22734,22745,22756,22767,22778,22789,22800,22811,22822,22833,22844,22855,22866,22877,22888,22899,22910,22921,22932,22943,22954,22965,22976,22987,22998,23009,23020,23031];
const C5_M40 = [11.8,9.6,10.9,12.3,9.0,10.4,11.5,8.8,10.1,12.0,9.4,10.8,11.2,8.6,10.3,11.9,9.8,10.6,12.4,9.2,11.0,10.0,8.9,11.6,10.5,9.5,12.1,10.2,9.1,11.3,10.7,8.7,11.7,9.9,10.4,12.5,9.3,10.9,11.4,8.5,10.6,9.7,11.1,12.2,9.6,10.3,11.8,9.0,10.8,11.5,9.4,10.1];
const C5_M39 = [9.4,8.6,10.2,7.9,9.0,9.8,8.3,10.6,8.9,7.6,9.5,8.8,10.1,8.0,9.2,9.7,7.3,8.7,9.9,8.4,10.4,9.1,8.2,9.6,7.8,8.9,10.0,8.5,9.3,7.5,8.8,9.8,8.1,10.3,9.0,8.4,9.5,7.7,8.6,9.9,8.3,9.2,10.5,8.0,8.7,9.4,7.9,9.1,8.5,10.0,8.8,9.6];
const C5_COR = [4.2,3.1,1.8,0.9,2.4,0.5,1.3,0.2,1.0,0.7,1.6,0.3,0.9,1.2,0.4,0.8,0.1,1.5,0.6,1.0,0.3,0.7,1.3,0.2,0.9,0.5,1.1,0.4,0.8,1.4,0.6,0.2,1.0,0.7,1.2,0.5,1.6,0.9,1.3,0.6,1.8,1.1,2.2,1.4,0.8,1.9,2.6,1.2,1.7,2.1,1.0,1.5];

// ---------- Axes, shading, labels ----------
const A_XTICKS = [18000, 19000, 20000, 21000, 22000, 23000];
const A_YTICKS = [0, 10000, 20000, 30000, 40000, 50000, 60000];
const B_XTICKS = [19000, 20000, 21000, 22000, 23000, 24000, 25000];
const B_YTICKS = [0, 20000, 40000, 60000, 80000, 100000];
const C_XTICKS = [18000, 19000, 20000, 21000, 22000, 23000, 24000];
const C_YTICKS = [0, 20000, 40000, 60000, 80000, 100000, 120000, 140000];
const A_SHADE = [18947, 20633];
const B_SHADE = [20157, 22428];
const C_SHADE = [19267, 21080];
const PANEL_LETTERS = ["a", "b", "c"];
const SERIES_NAMES = ["Mass 40", "Mass 39", "Corrected Signal"];
const X_TITLE = "Time (s)";
const Y_TITLE = "Counts Per Second";
const VALUE_UNIT = 1000; // arrays above are in thousands of counts per second

const SERIES_COLORS = ["#ff0000", "#008a00", "#0a3cff"];
const DRAW_ORDER = [1, 0, 2];
const FONT = "'DejaVu Sans', 'Bitstream Vera Sans', sans-serif";

type Segment = { t: number[]; v: number[][] };
type PanelDef = {
  letter: string;
  segments: Segment[];
  xDomain: [number, number];
  yDomain: [number, number];
  xTicks: number[];
  yTicks: number[];
  shade: number[];
  frame: { left: number; right: number; top: number; bottom: number };
};

const seg = (t: number[], m40: number[], m39: number[], cor: number[]): Segment => ({ t, v: [m40, m39, cor] });

const PANELS: PanelDef[] = [
  {
    letter: PANEL_LETTERS[0],
    segments: [
      seg(A1_T, A1_M40, A1_M39, A1_COR),
      seg(A2_T, A2_M40, A2_M39, A2_COR),
      seg(A2X_T, A2X_M40, A2X_M39, A2X_COR),
      seg(A3_T, A3_M40, A3_M39, A3_COR),
      seg(A4_T, A4_M40, A4_M39, A4_COR),
      seg(A5_T, A5_M40, A5_M39, A5_COR),
    ],
    xDomain: [18000, 23000],
    yDomain: [0, 60000],
    xTicks: A_XTICKS,
    yTicks: A_YTICKS,
    shade: A_SHADE,
    frame: { left: 77.5, right: 518.3, top: 16.7, bottom: 364.3 },
  },
  {
    letter: PANEL_LETTERS[1],
    segments: [
      seg(B1_T, B1_M40, B1_M39, B1_COR),
      seg(B2_T, B2_M40, B2_M39, B2_COR),
      seg(B2X_T, B2X_M40, B2X_M39, B2X_COR),
      seg(B3_T, B3_M40, B3_M39, B3_COR),
      seg(B4_T, B4_M40, B4_M39, B4_COR),
      seg(B5_T, B5_M40, B5_M39, B5_COR),
      seg(B6_T, B6_M40, B6_M39, B6_COR),
    ],
    xDomain: [19000, 25000],
    yDomain: [0, 100000],
    xTicks: B_XTICKS,
    yTicks: B_YTICKS,
    shade: B_SHADE,
    frame: { left: 85.5, right: 518.3, top: 421.3, bottom: 770 },
  },
  {
    letter: PANEL_LETTERS[2],
    segments: [
      seg(C1_T, C1_M40, C1_M39, C1_COR),
      seg(C2_T, C2_M40, C2_M39, C2_COR),
      seg(C2X_T, C2X_M40, C2X_M39, C2X_COR),
      seg(C3_T, C3_M40, C3_M39, C3_COR),
      seg(C4_T, C4_M40, C4_M39, C4_COR),
      seg(C5_T, C5_M40, C5_M39, C5_COR),
    ],
    xDomain: [18000, 24000],
    yDomain: [0, 150000],
    xTicks: C_XTICKS,
    yTicks: C_YTICKS,
    shade: C_SHADE,
    frame: { left: 85.5, right: 518.3, top: 819.3, bottom: 1174.3 },
  },
];

function PanelView({ p }: { p: PanelDef }) {
  const { left, right, top, bottom } = p.frame;
  const x = d3.scaleLinear().domain(p.xDomain).range([left, right]);
  const y = d3.scaleLinear().domain(p.yDomain).range([bottom, top]);
  const tick = 4;
  const boxW = 148;
  const boxH = 64.4;
  const boxL = right - 7.6 - boxW;
  const boxT = top + 6.6;

  const dots: React.ReactNode[] = [];
  DRAW_ORDER.forEach((k) => {
    p.segments.forEach((s, si) => {
      const vals = s.v[k];
      const n = Math.min(s.t.length, vals.length);
      for (let i = 0; i < n; i++) {
        dots.push(
          <circle
            key={`${k}-${si}-${i}`}
            cx={x(s.t[i])}
            cy={y(vals[i] * VALUE_UNIT)}
            r={1.75}
            fill={SERIES_COLORS[k]}
          />
        );
      }
    });
  });

  return (
    <g>
      <rect
        x={x(p.shade[0])}
        y={top}
        width={x(p.shade[1]) - x(p.shade[0])}
        height={bottom - top}
        fill="#d3d3d3"
      />
      <g>{dots}</g>
      <rect x={left} y={top} width={right - left} height={bottom - top} fill="none" stroke="#000" strokeWidth={1} />
      {p.xTicks.map((t) => (
        <g key={`xt${t}`}>
          <line x1={x(t)} x2={x(t)} y1={bottom} y2={bottom - tick} stroke="#000" strokeWidth={1} />
          <line x1={x(t)} x2={x(t)} y1={top} y2={top + tick} stroke="#000" strokeWidth={1} />
          <text x={x(t)} y={bottom + 14.3} textAnchor="middle" fontSize={13} fontFamily={FONT} fill="#000">
            {t}
          </text>
        </g>
      ))}
      {p.yTicks.map((v) => (
        <g key={`yt${v}`}>
          <line x1={left} x2={left + tick} y1={y(v)} y2={y(v)} stroke="#000" strokeWidth={1} />
          <line x1={right} x2={right - tick} y1={y(v)} y2={y(v)} stroke="#000" strokeWidth={1} />
          <text x={left - 4.3} y={y(v) + 4.6} textAnchor="end" fontSize={13} fontFamily={FONT} fill="#000">
            {v}
          </text>
        </g>
      ))}
      <text x={(left + right) / 2} y={bottom + 32.5} textAnchor="middle" fontSize={15.2} fontFamily={FONT} fill="#000">
        {X_TITLE}
      </text>
      <text
        transform={`translate(23.5, ${(top + bottom) / 2}) rotate(-90)`}
        textAnchor="middle"
        fontSize={15.2}
        fontFamily={FONT}
        fill="#000"
      >
        {Y_TITLE}
      </text>
      <text x={left + 12.5} y={top + 28.7} fontSize={28} fontFamily={FONT} fill="#000">
        {p.letter}
      </text>
      <rect x={boxL} y={boxT} width={boxW} height={boxH} fill="#fff" stroke="#222" strokeWidth={1.2} />
      {SERIES_NAMES.map((name, k) => {
        const ry = boxT + 12.4 + k * 20;
        return (
          <g key={name}>
            <circle cx={boxL + 19.4} cy={ry} r={2.7} fill={SERIES_COLORS[k]} />
            <text x={boxL + 30.6} y={ry + 4.5} fontSize={13.3} fontFamily={FONT} fill="#000">
              {name}
            </text>
          </g>
        );
      })}
    </g>
  );
}

export default function App() {
  return (
    <svg
      width={542}
      height={1211}
      viewBox="0 0 542 1211"
      style={{ position: "absolute", left: 0, top: 0, background: "#fff" }}
    >
      <rect x={0} y={0} width={542} height={1211} fill="#fff" />
      {PANELS.map((p) => (
        <PanelView key={p.letter} p={p} />
      ))}
    </svg>
  );
}
